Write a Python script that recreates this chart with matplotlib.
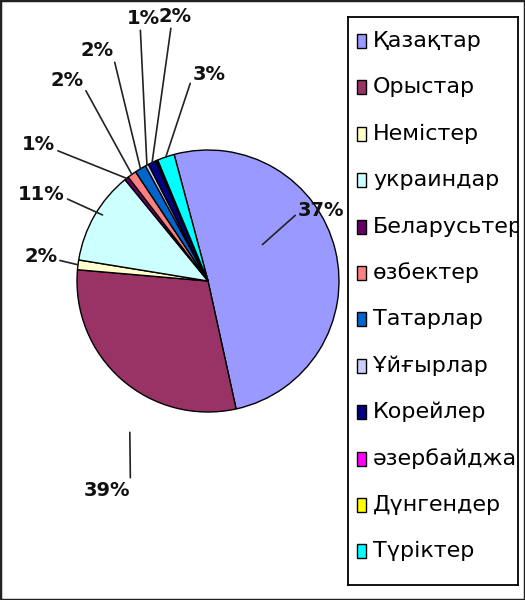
import numpy as np
import matplotlib
matplotlib.use("Agg")
import matplotlib.pyplot as plt
from matplotlib.patches import Rectangle

# categories, clockwise from the Kazakh slice
categories = [
    "Қазақтар", "Орыстар", "Немістер", "украиндар", "Беларусьтер",
    "өзбектер", "Татарлар", "Ұйғырлар", "Корейлер", "әзербайджандар",
    "Дүнгендер", "Түріктер",
]
# slice sizes as they look in the picture
shares = [50.7, 29.8, 1.2, 11.5, 0.5, 1.1, 1.4, 0.4, 1.0, 0.12, 0.13, 2.1]
# percent labels printed on the chart (None = no label shown)
pct_labels = ["37%", "39%", "2%", "11%", "1%", "2%", "2%", "1%", "2%",
              None, None, "3%"]
colors = [
    "#9999FF", "#993366", "#FFFFCC", "#CCFFFF", "#660066", "#FF8080",
    "#0066CC", "#CCCCFF", "#000080", "#FF00FF", "#FFFF00", "#00FFFF",
]

W, H = 525, 600
CX, CY, R = 208, H - 281, 131

# label layout: text left edge / centre in pixels
label_pos = [
    (298, 211), (84, 490), (24, 256), (18, 194), (22, 144), (50, 80),
    (80, 50), (127, 18), (158, 16), None, None, (193, 75),
]
# where the leader line ends: position across the wedge, radius fraction
leader_frac = [0.39, 0.37, 0.5, 0.55, 0.5, 0.5, 0.5, 0.5, 0.5, 0.5, 0.5, 0.5]
leader_r = [0.5, 1.3, 1.0, 0.95, 1.0, 1.0, 1.0, 1.0, 1.0, 1.0, 1.0, 1.0]
leader_rel = [
    (0.0, 0.4), (1.0, 0.4), (1.0, 0.3), (1.0, 0.3), (1.0, 0.2), (1.0, 0.2),
    (1.0, 0.2), (0.4, 0.0), (0.4, 0.0), None, None, (0.0, 0.5),
]


def main():

    fig = plt.figure(figsize=(W / 100, H / 100), dpi=100)

    ax = fig.add_axes([0, 0, 1, 1])

    wedges, _ = ax.pie(
        shares,
        colors=colors,
        startangle=105,
        counterclock=False,
        center=(CX, CY),
        radius=R,
        wedgeprops=dict(edgecolor="black", linewidth=1.0),
    )

    ax.set_xlim(0, W)
    ax.set_ylim(0, H)
    ax.set_aspect("equal")
    ax.axis("off")

    for i, w in enumerate(wedges):

        if pct_labels[i] is None:
            continue

        # wedges run clockwise, so theta2 is the start edge
        ang = np.deg2rad(w.theta2 - leader_frac[i] * (w.theta2 - w.theta1))

        xy = (
            CX + leader_r[i] * R * np.cos(ang),
            CY + leader_r[i] * R * np.sin(ang)
        )

        tx, ty = label_pos[i]

        ax.annotate(
            pct_labels[i],
            xy=xy,
            xytext=(tx, H - ty),
            ha="left",
            va="center",
            fontsize=14,
            fontweight="bold",
            color="#111111",
            arrowprops=dict(
                arrowstyle="-",
                color="#222222",
                lw=1.2,
                relpos=leader_rel[i],
                shrinkA=0,
                shrinkB=0,
            ),
        )

    # legend drawn by hand so long names get cut by the box
    lx0, lx1, ly0, ly1 = 348, 518, 17, 585
    lax = fig.add_axes([
        lx0 / W, 1 - ly1 / H,
        (lx1 - lx0) / W, (ly1 - ly0) / H
    ])
    lax.set_xlim(lx0, lx1)
    lax.set_ylim(ly1, ly0)
    lax.set_xticks([])
    lax.set_yticks([])
    for s in lax.spines.values():
        s.set_linewidth(1.3)
        s.set_color("black")

    row0, step = 41, 46.4

    for i, name in enumerate(categories):

        yc = row0 + i * step

        lax.add_patch(Rectangle(
            (357, yc - 7), 9, 14,
            facecolor=colors[i],
            edgecolor="black",
            linewidth=1.0
        ))

        lax.text(
            373, yc, name,
            fontsize=16,
            va="center",
            ha="left",
            clip_on=True
        )

    fig.patches.append(Rectangle(
        (0, 0), 1, 1,
        transform=fig.transFigure,
        fill=False,
        edgecolor="#222222",
        linewidth=2.5
    ))

    fig.savefig("out.png", dpi=100)

    plt.close(fig)


if __name__ == "__main__":
    main()
